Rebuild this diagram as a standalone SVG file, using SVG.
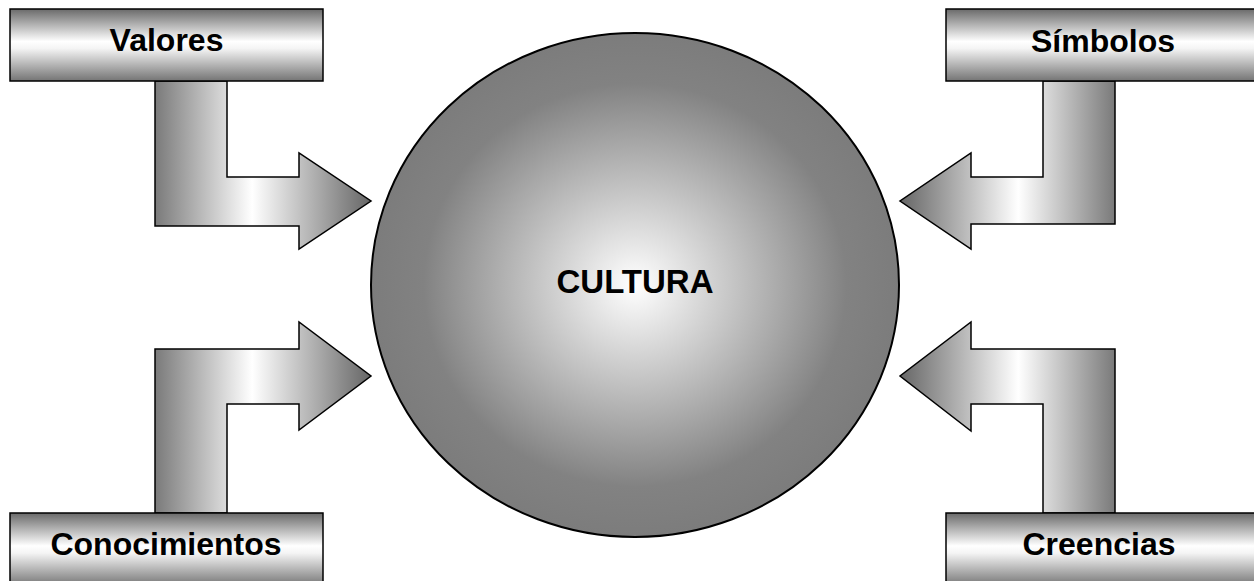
<svg xmlns="http://www.w3.org/2000/svg" width="1254" height="581" viewBox="0 0 1254 581">
  <style>
    .box { stroke: #000; stroke-width: 1.5; fill: url(#gBox); }
    .arr { stroke: #000; stroke-width: 1.5; stroke-linejoin: miter; }
    .lbl { font-family: "Liberation Sans", Arial, sans-serif; font-weight: bold; font-size: 32px; fill: #000; text-anchor: middle; }
  </style>
  <defs>
    <linearGradient id="gBox" x1="0" y1="0" x2="0" y2="1">
      <stop offset="0" stop-color="#6a6a6a"/>
      <stop offset="0.45" stop-color="#ffffff"/>
      <stop offset="0.55" stop-color="#f4f4f4"/>
      <stop offset="1" stop-color="#747474"/>
    </linearGradient>
    <linearGradient id="gArrR" x1="0" y1="0" x2="1" y2="0">
      <stop offset="0" stop-color="#7a7a7a"/>
      <stop offset="0.45" stop-color="#ffffff"/>
      <stop offset="1" stop-color="#666666"/>
    </linearGradient>
    <linearGradient id="gArrL" x1="0" y1="0" x2="1" y2="0">
      <stop offset="0" stop-color="#666666"/>
      <stop offset="0.55" stop-color="#ffffff"/>
      <stop offset="1" stop-color="#7a7a7a"/>
    </linearGradient>
    <radialGradient id="gCirc" cx="0.5" cy="0.5" r="0.5">
      <stop offset="0" stop-color="#ffffff"/>
      <stop offset="0.8" stop-color="#828282"/>
      <stop offset="1" stop-color="#7c7c7c"/>
    </radialGradient>
  </defs>

  <g id="connectors">
    <path class="arr" fill="url(#gArrR)" d="M155,81 L227,81 L227,177 L299,177 L299,153 L371,201 L299,249 L299,226 L155,226 Z"/>
    <path class="arr" fill="url(#gArrR)" d="M155,513 L155,349 L299,349 L299,322 L371,376 L299,430 L299,404 L227,404 L227,513 Z"/>
    <path class="arr" fill="url(#gArrL)" d="M1043,81 L1115,81 L1115,224 L971,224 L971,249 L900,201 L971,153 L971,177 L1043,177 Z"/>
    <path class="arr" fill="url(#gArrL)" d="M1043,513 L1043,404 L971,404 L971,431 L900,376 L971,322 L971,349 L1115,349 L1115,513 Z"/>
  </g>

  <g id="cultura">
    <ellipse cx="635" cy="285" rx="264" ry="252" fill="url(#gCirc)" stroke="#000" stroke-width="2"/>
    <text class="lbl" x="635" y="293" style="font-size:33px">CULTURA</text>
  </g>

  <g id="valores">
    <rect class="box" x="10" y="9" width="313" height="72"/>
    <text class="lbl" x="166.5" y="51">Valores</text>
  </g>

  <g id="simbolos">
    <rect class="box" x="946" y="9" width="320" height="72"/>
    <text class="lbl" x="1103" y="52">Símbolos</text>
  </g>

  <g id="conocimientos">
    <rect class="box" x="10" y="513" width="313" height="73"/>
    <text class="lbl" x="166" y="555">Conocimientos</text>
  </g>

  <g id="creencias">
    <rect class="box" x="946" y="513" width="320" height="73"/>
    <text class="lbl" x="1099" y="555">Creencias</text>
  </g>
</svg>
